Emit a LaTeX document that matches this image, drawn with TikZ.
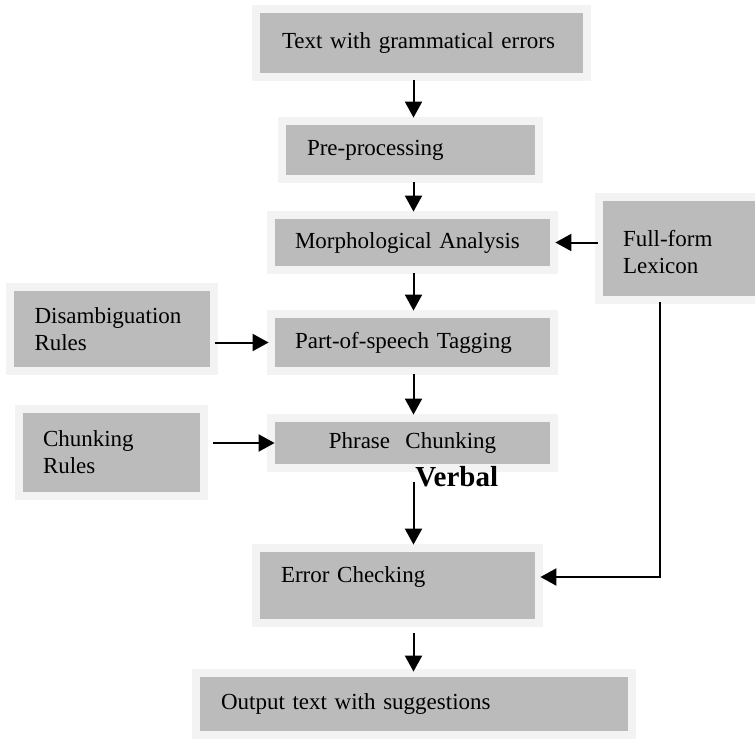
\documentclass[tikz,border=0pt]{standalone}
\usepackage{fontspec}
\setmainfont{Liberation Serif}
\usetikzlibrary{arrows.meta}

\definecolor{boxgray}{RGB}{187,187,187}
\definecolor{halogray}{RGB}{243,243,243}

\begin{document}
\begin{tikzpicture}[x=0.5pt, y=-0.5pt,
    stagebox/.style={fill=boxgray, preaction={draw=halogray, line width=8pt},
          inner ysep=0pt, align=left, font=\fontsize{11.5}{13.5}\selectfont},
    flow/.style={-{Triangle[width=8.5pt,length=8pt]}, line width=1pt}]

    \useasboundingbox (0,0) rectangle (755,740);

    % Main pipeline
    \node[stagebox, text width=139.5pt, inner xsep=11pt,
          minimum height=30pt] (input) at (421.5,43)
          {Text with grammatical errors};

    \node[stagebox, text width=103.5pt, inner xsep=10.5pt,
          minimum height=25pt] (prep) at (410.5,150)
          {Pre-processing};

    \node[stagebox, text width=117.5pt, inner xsep=10pt,
          minimum height=23.5pt] (morph) at (412.5,242.5)
          {Morphological Analysis};

    \node[stagebox, text width=117.5pt, inner xsep=10pt,
          minimum height=24.5pt] (pos) at (412.5,342.5)
          {Part-of-speech Tagging};

    \node[stagebox, text width=117.5pt, inner xsep=10pt, align=center,
          minimum height=21pt] (phrase) at (412.5,443)
          {Phrase\ \ Chunking};

    \node[stagebox, text width=116.5pt, inner xsep=10.5pt, text depth=11pt,
          minimum height=33.5pt] (error) at (397.5,585.5)
          {Error Checking};

    \node[stagebox, text width=193pt, inner xsep=10.5pt,
          minimum height=27pt] (output) at (414,704)
          {Output text with suggestions};

    % Resources
    \node[stagebox, text width=58.5pt, inner xsep=10pt, text depth=10pt,
          minimum height=47.5pt] (lexicon) at (681.5,248.5)
          {Full-form\\Lexicon};

    \node[stagebox, text width=77pt, inner xsep=10.5pt,
          minimum height=38pt] (disamb) at (111.5,329)
          {Disambiguation\\Rules};

    \node[stagebox, text width=68.5pt, inner xsep=10pt,
          minimum height=39.5pt] (chunkrules) at (111.5,452.5)
          {Chunking\\Rules};

    \node[font=\fontsize{14.5}{16}\selectfont\bfseries, anchor=west,
          inner sep=0pt] (verbal) at (415,477) {Verbal};

    % --------------------
    % Arrows
    % --------------------
    \coordinate (spine) at (413.5,0);
    \coordinate (lexturn) at (660,577);

    \draw[flow, shorten <=3.5pt, shorten >=3.5pt] (input.south -| spine) -- (prep.north -| spine);
    \draw[flow, shorten <=3.5pt, shorten >=3.5pt] (prep.south -| spine) -- (morph.north -| spine);
    \draw[flow, shorten <=3.5pt, shorten >=3.5pt] (morph.south -| spine) -- (pos.north -| spine);
    \draw[flow, shorten <=3.5pt, shorten >=3.5pt] (pos.south -| spine) -- (phrase.north -| spine);
    \draw[flow, shorten <=9pt, shorten >=3.5pt] (phrase.south -| spine) -- (error.north -| spine);
    \draw[flow, shorten <=7pt, shorten >=2.5pt] (error.south -| spine) -- (output.north -| spine);

    \draw[flow, shorten <=2.5pt, shorten >=3pt] (pos.west -| disamb.east) -- (pos.west);
    \draw[flow, shorten <=6.5pt] (phrase.west -| chunkrules.east) -- (phrase.west);
    \draw[flow, shorten <=2.5pt, shorten >=2.5pt] (morph.east -| lexicon.west) -- (morph.east);

    \draw[flow, shorten <=3pt, shorten >=2.5pt] (lexicon.south -| lexturn) -- (lexturn) -- (error.east |- lexturn);

\end{tikzpicture}
\end{document}
